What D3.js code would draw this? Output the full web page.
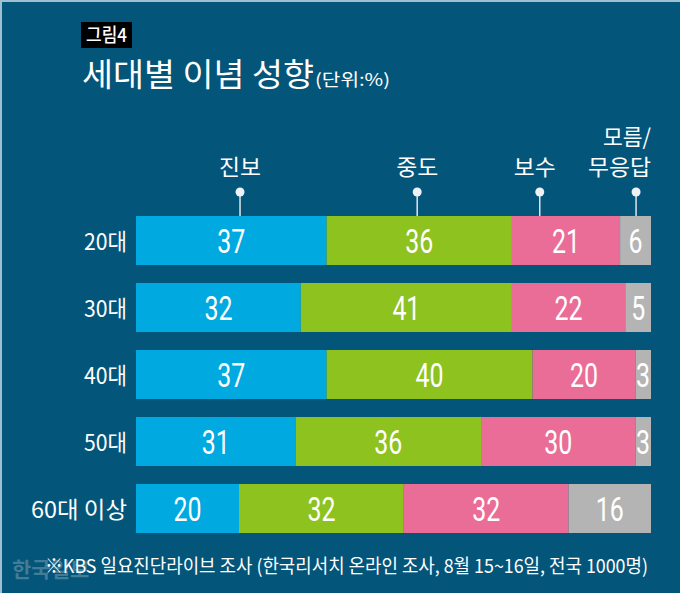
<!DOCTYPE html>
<html><head><meta charset="utf-8">
<script src="https://cdn.jsdelivr.net/npm/d3@7"></script>
<style>html,body{margin:0;padding:0;background:#fff;}svg{display:block;}</style>
</head><body>
<script>
const categories = ["20대", "30대", "40대", "50대", "60대 이상"];
const seriesNames = ["진보", "중도", "보수", "모름/무응답"];
const progressive = [37, 32, 37, 31, 20];
const moderate = [36, 41, 40, 36, 32];
const conservative = [21, 22, 20, 30, 32];
const unknown = [6, 5, 3, 3, 16];
const colors = ["#00a9e0", "#8dc21f", "#ea6d98", "#b4b4b4"];

const W = 680, H = 593;
const svg = d3.select("body").append("svg").attr("width", W).attr("height", H);
const KR = "'Noto Sans CJK KR', 'Noto Sans', sans-serif";
const NUM = "Roboto, 'Noto Sans CJK KR', sans-serif";

svg.append("rect").attr("width", W).attr("height", H).attr("fill", "#04557a");
svg.append("line").attr("x1", 0).attr("x2", W).attr("y1", 1).attr("y2", 1).attr("stroke", "#9fc0ce").attr("stroke-width", 2);
svg.append("line").attr("x1", 1).attr("x2", 1).attr("y1", 0).attr("y2", H).attr("stroke", "#9fc0ce").attr("stroke-width", 2);

function fit(sel, w) { sel.attr("textLength", w).attr("lengthAdjust", "spacingAndGlyphs"); return sel; }

// header
svg.append("rect").attr("x", 81).attr("y", 22).attr("width", 51).attr("height", 26).attr("fill", "#000");
fit(svg.append("text").attr("x", 86).attr("y", 42).attr("fill", "#fff")
  .style("font-family", KR).style("font-size", "19px").style("font-weight", 500).text("그림4"), 41);
fit(svg.append("text").attr("x", 82).attr("y", 86).attr("fill", "#fff")
  .style("font-family", KR).style("font-size", "32px").style("font-weight", 400).text("세대별 이념 성향"), 232);
fit(svg.append("text").attr("x", 315).attr("y", 86).attr("fill", "#fff")
  .style("font-family", KR).style("font-size", "17px").text("(단위:%)"), 75);

const rows = categories.map((c, i) => ({ cat: c, vals: [progressive[i], moderate[i], conservative[i], unknown[i]] }));

const x = d3.scaleLinear().domain([0, 100]).range([136, 651]);
const y = d3.scaleBand().domain(categories).range([216, 533]).paddingInner(18 / 67).paddingOuter(0);

// legend callouts (anchored in data units along the first bar)
const legendAnchor = [20.2, 54.6, 78.4, 97.1];
const legendG = svg.append("g");
seriesNames.forEach((name, k) => {
  const cx = x(legendAnchor[k]);
  legendG.append("line").attr("x1", cx).attr("x2", cx).attr("y1", 192).attr("y2", y(categories[0]))
    .attr("stroke", "#dfe6ea").attr("stroke-width", 1.5);
  legendG.append("circle").attr("cx", cx).attr("cy", 192).attr("r", 4.5).attr("fill", "#eef2f4");
  if (name.includes("/")) {
    const parts = name.split("/");
    fit(legendG.append("text").attr("x", 651).attr("y", 145).attr("text-anchor", "end").attr("fill", "#fff")
      .style("font-family", KR).style("font-size", "22px").text(parts[0] + "/"), 48);
    fit(legendG.append("text").attr("x", 651).attr("y", 175).attr("text-anchor", "end").attr("fill", "#fff")
      .style("font-family", KR).style("font-size", "22px").text(parts[1]), 63);
  } else {
    fit(legendG.append("text").attr("x", cx + (k === 2 ? -5 : 0)).attr("y", 175).attr("text-anchor", "middle").attr("fill", "#fff")
      .style("font-family", KR).style("font-size", "22px").text(name), 42);
  }
});

// bars
const rowG = svg.selectAll("g.row").data(rows).join("g").attr("class", "row")
  .attr("transform", d => `translate(0,${y(d.cat)})`);

rowG.each(function (d) {
  const g = d3.select(this);
  let acc = 0;
  const segs = d.vals.map((v, k) => { const s = { v, k, x0: acc, x1: acc + v }; acc += v; return s; });
  g.selectAll("rect").data(segs).join("rect")
    .attr("x", s => x(s.x0)).attr("width", s => x(s.x1) - x(s.x0))
    .attr("y", 0).attr("height", y.bandwidth()).attr("fill", s => colors[s.k]);
  g.selectAll("text.val").data(segs).join("text").attr("class", "val")
    .attr("x", s => Math.min(x((s.x0 + s.x1) / 2), 643)).attr("y", y.bandwidth() / 2 + 12)
    .attr("text-anchor", "middle").attr("fill", "#fff")
    .style("font-family", NUM).style("font-size", "33px").style("font-weight", 400)
    .text(s => s.v)
    .attr("textLength", s => String(s.v).length * 14)
    .attr("lengthAdjust", "spacingAndGlyphs");
  const lbl = g.append("text").attr("x", 127).attr("y", y.bandwidth() / 2 + 9).attr("text-anchor", "end")
    .attr("fill", "#fff").style("font-family", KR).style("font-size", "23px").text(d.cat);
  fit(lbl, d.cat.length > 3 ? 96 : 43);
});

// footer
svg.append("text").attr("x", 12).attr("y", 577).attr("fill", "rgba(190,200,206,0.35)")
  .style("font-family", KR).style("font-size", "21px").style("font-weight", 700).text("한국일보");
fit(svg.append("text").attr("x", 45).attr("y", 573).attr("fill", "#fff")
  .style("font-family", KR).style("font-size", "19px")
  .text("※KBS 일요진단라이브 조사 (한국리서치 온라인 조사, 8월 15~16일, 전국 1000명)"), 603);
</script>
</body></html>
